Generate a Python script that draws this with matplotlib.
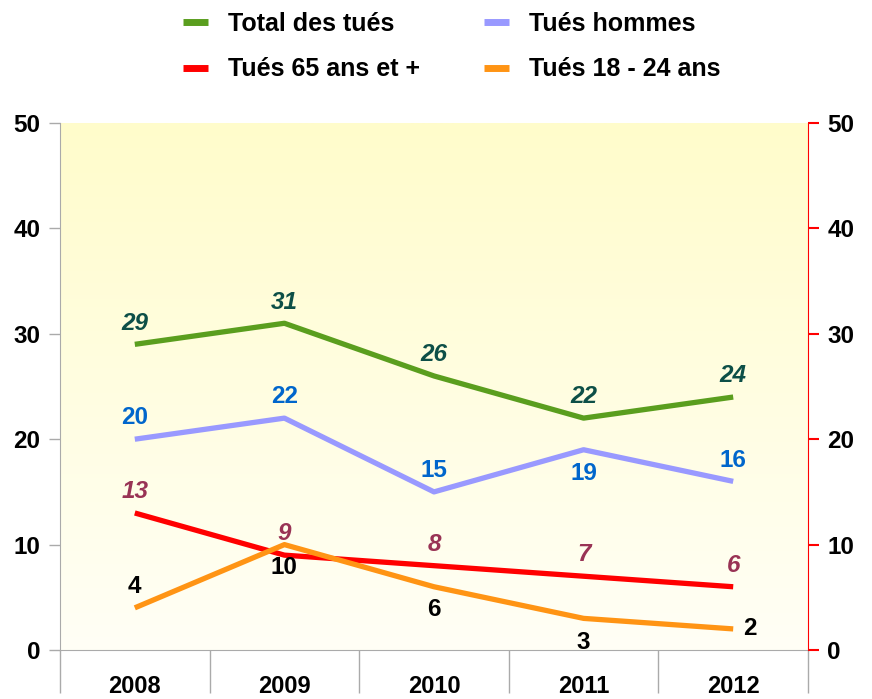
import numpy as np
import matplotlib
matplotlib.use("Agg")
import matplotlib.pyplot as plt
from matplotlib.colors import LinearSegmentedColormap

plt.rcParams['font.family'] = ['Liberation Sans', 'DejaVu Sans']
plt.rcParams['font.weight'] = 'bold'

# data
years = ['2008', '2009', '2010', '2011', '2012']
total = [29, 31, 26, 22, 24]
hommes = [20, 22, 15, 19, 16]
seniors = [13, 9, 8, 7, 6]
jeunes = [4, 10, 6, 3, 2]
yticks = [0, 10, 20, 30, 40, 50]

fig = plt.figure(figsize=(8.72, 6.99), dpi=100)
ax = fig.add_axes([60/872, 1-650/699, 748/872, 527/699])

x = np.arange(len(years))

# background gradient (yellow top -> near white bottom)
cmap = LinearSegmentedColormap.from_list('bg', ['#FFFFF6', '#FFFCCB'])
grad = np.linspace(0, 1, 256).reshape(-1, 1)
ax.imshow(grad, cmap=cmap, aspect='auto', origin='lower',
          extent=[0, 1, 0, 1], transform=ax.transAxes, zorder=0)

lw = 3.8
l_total, = ax.plot(x, total, color='#5A9E1E', lw=lw, zorder=3, solid_capstyle='butt')
l_hom, = ax.plot(x, hommes, color='#9999FF', lw=lw, zorder=3, solid_capstyle='butt')
l_sen, = ax.plot(x, seniors, color='#FF0000', lw=lw, zorder=3, solid_capstyle='butt')
l_jeu, = ax.plot(x, jeunes, color='#FF9414', lw=lw, zorder=4, solid_capstyle='butt')

ax.set_xlim(-0.5, 4.5)
ax.set_ylim(0, 50)

fs = 17.5
# labels green
for xi, v in zip(x, total):
    ax.annotate(str(v), (xi, v), xytext=(0, 7), textcoords='offset points',
                ha='center', va='bottom', fontsize=fs, style='italic',
                color='#0D4F47', zorder=5)
# labels blue
hom_off = [7, 7, 7, -9, 7]
for xi, v, o in zip(x, hommes, hom_off):
    ax.annotate(str(v), (xi, v), xytext=(0, o), textcoords='offset points',
                ha='center', va='bottom' if o > 0 else 'top', fontsize=fs,
                color='#0066CC', zorder=5)
# labels red
for xi, v in zip(x, seniors):
    ax.annotate(str(v), (xi, v), xytext=(0, 7), textcoords='offset points',
                ha='center', va='bottom', fontsize=fs, style='italic',
                color='#993355', zorder=5)
# labels orange
jeu_off = [(0, 7), (0, -8), (0, -8), (0, -9), (7, 0)]
for xi, v, (ox, oy) in zip(x, jeunes, jeu_off):
    if ox:
        ha, va = 'left', 'center'
    elif oy > 0:
        ha, va = 'center', 'bottom'
    else:
        ha, va = 'center', 'top'
    ax.annotate(str(v), (xi, v), xytext=(ox, oy), textcoords='offset points',
                ha=ha, va=va, fontsize=fs, color='black', zorder=5)

# axes styling
gray = '#AAAAAA'
ax.spines['top'].set_visible(False)
ax.spines['right'].set_visible(False)
ax.spines['left'].set_color(gray)
ax.spines['bottom'].set_color(gray)
ax.set_yticks(yticks)
ax.tick_params(axis='y', colors=gray, length=8, width=1, pad=6, labelsize=17.5,
               labelcolor='black')
ax.set_xticks(x)
ax.set_xticklabels(years)
ax.tick_params(axis='x', length=0, pad=18, labelsize=17, labelcolor='black')
ax.set_xticks(np.arange(-0.5, 5, 1), minor=True)
ax.tick_params(axis='x', which='minor', length=31, width=1, colors=gray)

ax2 = ax.twinx()
ax2.set_ylim(0, 50)
ax2.set_yticks(yticks)
for s in ['top', 'left', 'bottom']:
    ax2.spines[s].set_visible(False)
ax2.spines['right'].set_color('#FF0000')
ax2.tick_params(axis='y', colors='#FF0000', length=8, width=1.5, pad=6,
                labelsize=17.5, labelcolor='black')

# legend
leg = fig.legend([l_total, l_sen, l_hom, l_jeu],
                 ['Total des tués', 'Tués 65 ans et +', 'Tués hommes', 'Tués 18 - 24 ans'],
                 ncol=2, loc='upper left', bbox_to_anchor=(183/872, 1 - 12/699),
                 frameon=False, borderpad=0, borderaxespad=0,
                 handlelength=1.0, handletextpad=0.8,
                 columnspacing=2.55, labelspacing=0.85,
                 prop={'weight': 'bold', 'size': 18})
for line in leg.get_lines():
    line.set_linewidth(5)

fig.savefig('out.png', dpi=100)
